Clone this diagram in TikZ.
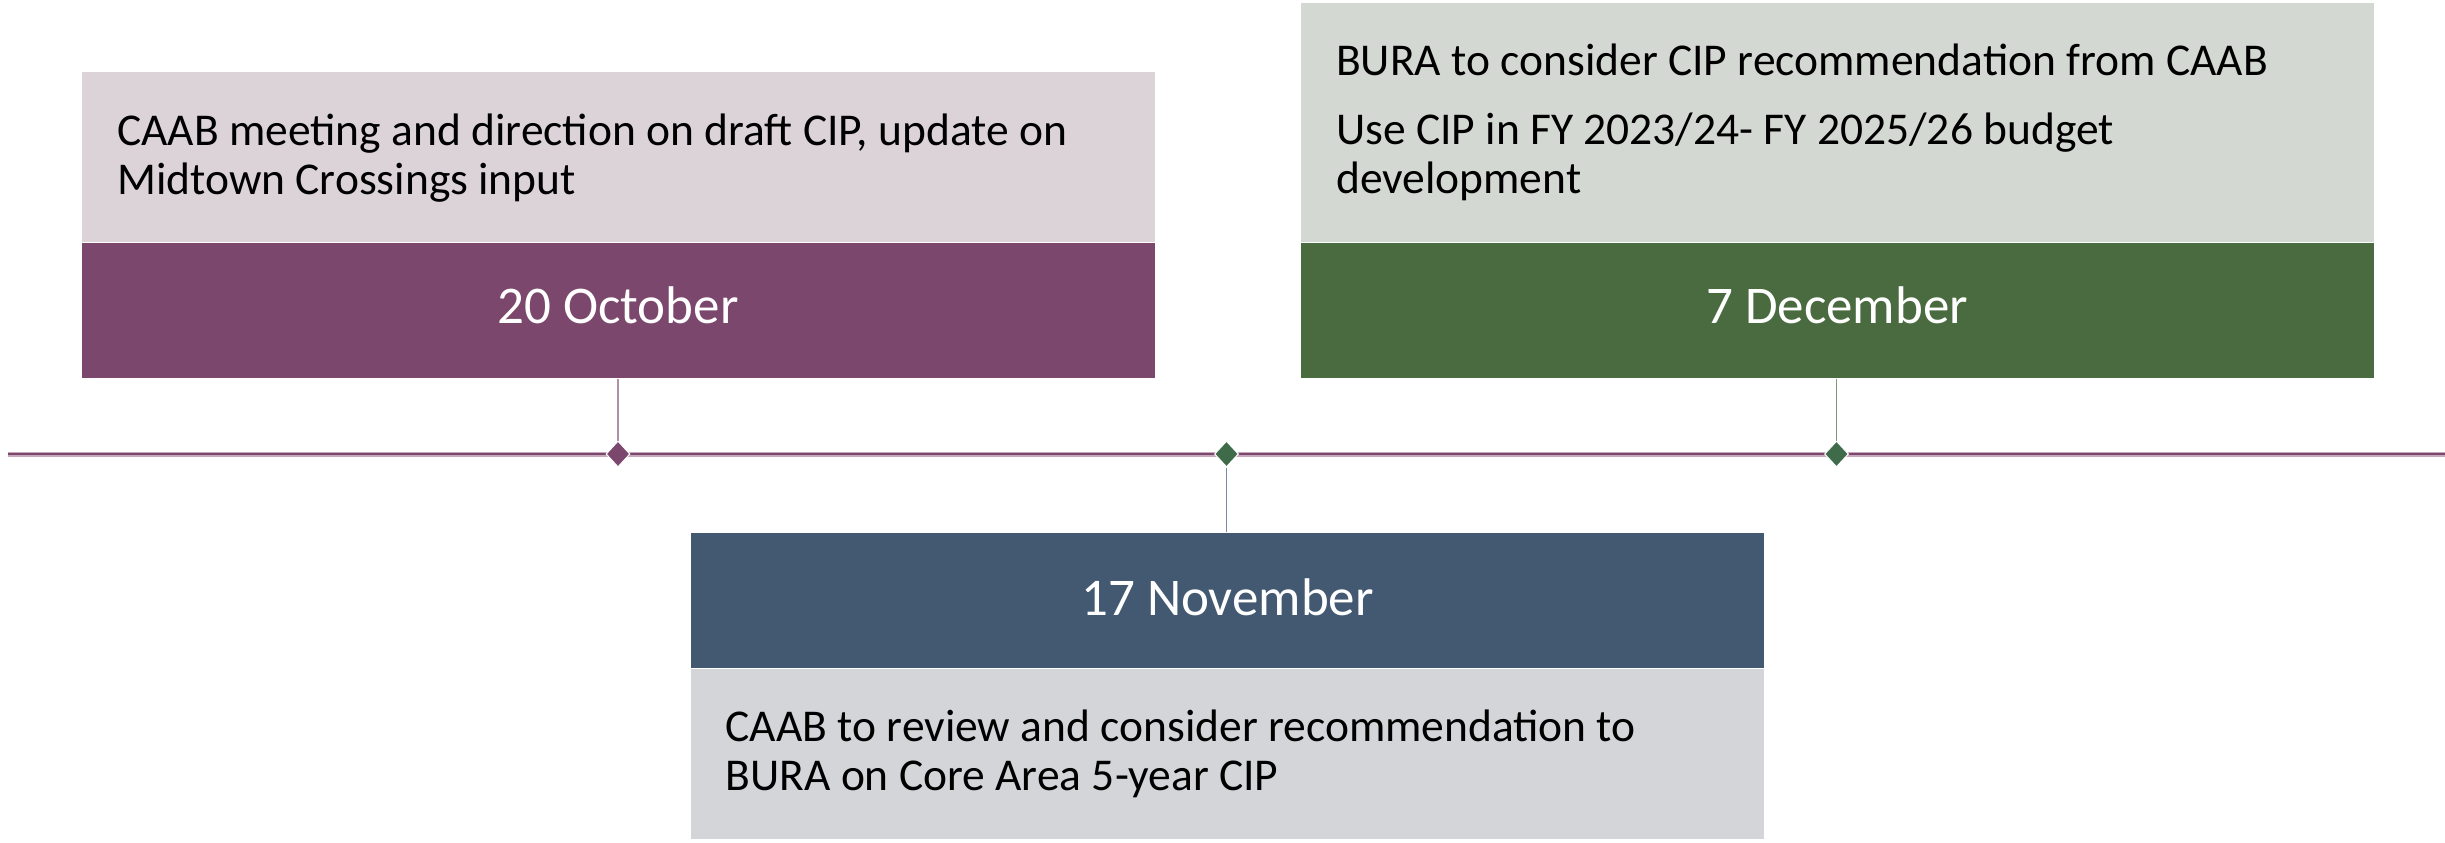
\documentclass[tikz,border=0pt]{standalone}
\usepackage{fontspec}
\setmainfont{Carlito}
\usetikzlibrary{shapes.geometric}
\definecolor{purpD}{HTML}{7B476C}
\definecolor{purpL}{HTML}{DCD3D8}
\definecolor{greenD}{HTML}{4A6B3F}
\definecolor{greenL}{HTML}{D4D8D2}
\definecolor{blueD}{HTML}{435971}
\definecolor{blueL}{HTML}{D4D5D9}
\definecolor{purpLine}{HTML}{C8A8BE}
\definecolor{diamG}{HTML}{3F6B4A}
\tikzset{
  box/.style={rectangle, inner sep=0pt, minimum width=1074pt, draw=white, line width=1pt},
  datetxt/.style={text=white, font=\fontsize{53}{60}\selectfont, inner sep=0pt},
  bodytxt/.style={text=black, font=\fontsize{45.5}{49}\selectfont, inner sep=0pt, align=left, anchor=base west},
  diamark/.style={diamond, inner sep=0pt, minimum width=24pt, minimum height=26pt, draw=white, line width=1pt},
  conn/.style={line width=1.6pt}
}
\begin{document}
\begin{tikzpicture}[x=1pt,y=-1pt]
\useasboundingbox[fill=white] (0,0) rectangle (2445,843);
% timeline
\coordinate (tl) at (8,454);
\coordinate (tr) at (2445,454);
\draw[purpLine, line width=5pt] (tl) -- (tr);
\draw[purpD, line width=2.6pt] (tl) -- (tr);
% boxes
\node[box, fill=purpL, minimum height=170pt] (l1) at (618,157) {};
\node[box, fill=purpD, minimum height=136pt] (d1) at (618,310) {};
\node[box, fill=greenL, minimum height=239pt] (l3) at (1837,122.5) {};
\node[box, fill=greenD, minimum height=136pt] (d3) at (1837,310) {};
\node[box, fill=blueD, minimum height=136pt] (d2) at (1227.5,600) {};
\node[box, fill=blueL, minimum height=171pt] (l2) at (1227.5,753.5) {};
% markers
\node[diamark, fill=purpD] (m1) at (618,454) {};
\node[diamark, fill=diamG] (m2) at (1226.5,454) {};
\node[diamark, fill=diamG] (m3) at (1836.5,454) {};
% connectors
\draw[conn, color=purpD!60] (m1.north |- d1.south) -- (m1.north);
\draw[conn, color=blueD!70] (m2.south) -- (m2.south |- d2.north);
\draw[conn, color=greenD!70] (m3.north |- d3.south) -- (m3.north);
% dates
\node[datetxt, anchor=base] (t1) at (618,323) {20 October};
\node[datetxt, anchor=base] (t3) at (1837,323) {7 December};
\node[datetxt, anchor=base] (t2) at (1227.5,615) {17 November};
% texts (base anchor = last line baseline)
\node[bodytxt] (b1) at (117,194) {CAAB meeting and direction on draft CIP, update on\\Midtown Crossings input};
\node[bodytxt] (b3a) at (1336,76) {BURA to consider CIP recommendation from CAAB};
\node[bodytxt] (b3b) at (1336,193) {Use CIP in FY 2023/24- FY 2025/26 budget\\development};
\node[bodytxt] (b2) at (725.5,790) {CAAB to review and consider recommendation to\\BURA on Core Area 5-year CIP};
\end{tikzpicture}
\end{document}
